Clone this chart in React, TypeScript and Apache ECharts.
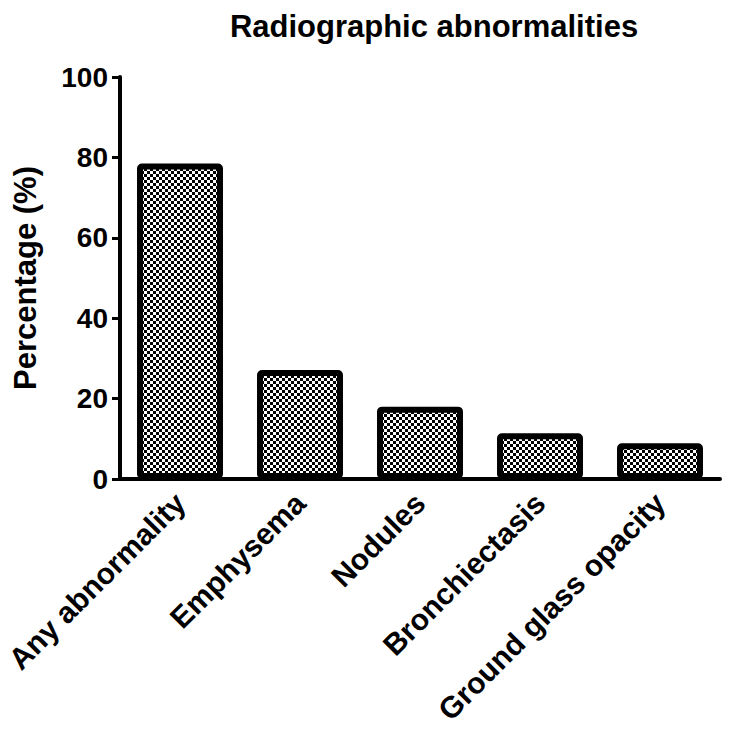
import React, { useEffect, useRef } from "react";
import * as echarts from "echarts";

const categories = ["Any abnormality", "Emphysema", "Nodules", "Bronchiectasis", "Ground glass opacity"];
const values = [78.5, 27.1, 18.0, 11.4, 8.9];
const yTicks = { min: 0, max: 100, interval: 20 };

function makeChecker(): HTMLCanvasElement {
  const c = document.createElement("canvas");
  const s = 3;
  c.width = s * 2;
  c.height = s * 2;
  const ctx = c.getContext("2d")!;
  ctx.fillStyle = "#ffffff";
  ctx.fillRect(0, 0, s * 2, s * 2);
  ctx.fillStyle = "#000000";
  ctx.fillRect(0, 0, s, s);
  ctx.fillRect(s, s, s, s);
  return c;
}

export default function App() {
  const ref = useRef<HTMLDivElement>(null);
  useEffect(() => {
    if (!ref.current) return;
    const chart = echarts.init(ref.current, null, { renderer: "svg" });
    const font = "'Liberation Sans', Arial, sans-serif";
    chart.setOption({
      animation: false,
      backgroundColor: "#ffffff",
      title: {
        text: "Radiographic abnormalities",
        left: 429,
        textAlign: "center",
        top: 6,
        textStyle: { fontFamily: font, fontWeight: "bold", fontSize: 31, color: "#000" },
      },
      grid: { left: 120, top: 77, width: 600, bottom: 260 },
      xAxis: {
        type: "category",
        data: categories,
        axisLine: { lineStyle: { color: "#000", width: 4 } },
        axisTick: { alignWithLabel: true, length: 10, lineStyle: { color: "#000", width: 3 } },
        axisLabel: {
          rotate: 45,
          interval: 0,
          margin: 19,
          fontFamily: font,
          fontWeight: "bold",
          fontSize: 30,
          color: "#000",
        },
      },
      yAxis: {
        type: "value",
        min: yTicks.min,
        max: yTicks.max,
        interval: yTicks.interval,
        name: "Percentage (%)",
        nameLocation: "middle",
        nameGap: 79,
        nameTextStyle: { fontFamily: font, fontWeight: "bold", fontSize: 31, color: "#000" },
        splitLine: { show: false },
        axisLine: { show: true, lineStyle: { color: "#000", width: 4 } },
        axisTick: { show: true, length: 8, lineStyle: { color: "#000", width: 3 } },
        axisLabel: {
          margin: 12,
          fontFamily: font,
          fontWeight: "bold",
          fontSize: 28,
          color: "#000",
        },
      },
      series: [
        {
          type: "bar",
          data: values,
          barWidth: 86,
          itemStyle: {
            color: { image: makeChecker(), repeat: "repeat" },
            borderColor: "#000",
            borderWidth: 6,
            borderRadius: 2,
          },
        },
      ],
    });
    return () => chart.dispose();
  }, []);
  return <div ref={ref} style={{ width: 729, height: 739, position: "absolute", left: 0, top: 0 }} />;
}
